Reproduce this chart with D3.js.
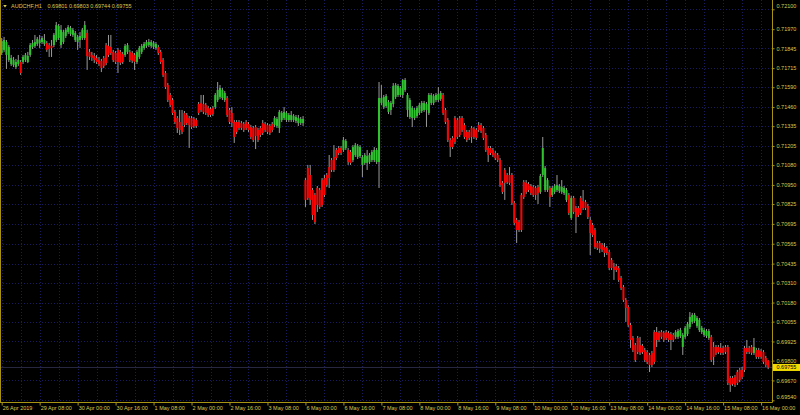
<!DOCTYPE html>
<html>
<head>
<meta charset="utf-8">
<script src="https://cdn.jsdelivr.net/npm/d3@7"></script>
<style>
  body { margin: 0; background: #000; }
  svg { display: block; }
  text { font-family: "Liberation Sans", Arial, sans-serif; }
</style>
</head>
<body>
<svg id="chart" width="800" height="415"></svg>
<script>
// AUDCHF H1, one bar per hour, 26 Apr 2019 16:00 .. 16 May 2019 03:00
var symbol = "AUDCHF,H1";

var open = [
  0.71814,0.71834,0.71801,0.71768,0.71742,0.71735,0.71722,0.71742,0.71755,0.71755,
  0.71768,0.71755,0.71801,0.71853,0.71860,0.71873,0.71879,0.71886,0.71873,0.71879,
  0.71866,0.71860,0.71866,0.71899,0.71912,0.71866,0.71886,0.71925,0.71951,0.71938,
  0.71932,0.71899,0.71886,0.71899,0.71912,0.71912,0.71945,0.71821,0.71801,0.71794,
  0.71781,0.71768,0.71762,0.71781,0.71866,0.71860,0.71853,0.71821,0.71814,0.71834,
  0.71821,0.71807,0.71801,0.71821,0.71821,0.71814,0.71801,0.71755,0.71788,0.71821,
  0.71847,0.71860,0.71866,0.71860,0.71853,0.71847,0.71853,0.71821,0.71768,0.71683,
  0.71604,0.71539,0.71506,0.71428,0.71388,0.71362,0.71336,0.71421,0.71408,0.71388,
  0.71388,0.71382,0.71375,0.71480,0.71487,0.71480,0.71473,0.71454,0.71447,0.71454,
  0.71460,0.71506,0.71526,0.71519,0.71506,0.71519,0.71441,0.71421,0.71362,0.71362,
  0.71362,0.71355,0.71349,0.71362,0.71349,0.71329,0.71323,0.71329,0.71310,0.71323,
  0.71355,0.71349,0.71342,0.71336,0.71349,0.71342,0.71336,0.71323,0.71375,0.71388,
  0.71375,0.71375,0.71375,0.71375,0.71369,0.71355,0.71355,0.71355,0.70982,0.71061,
  0.71015,0.70917,0.70884,0.70930,0.70917,0.70982,0.70995,0.71015,0.71067,0.71113,
  0.71133,0.71179,0.71192,0.71192,0.71179,0.71192,0.71179,0.71166,0.71113,0.71146,
  0.71133,0.71139,0.71081,0.71094,0.71094,0.71100,0.71113,0.71113,0.71100,0.71100,
  0.71487,0.71460,0.71467,0.71428,0.71441,0.71480,0.71526,0.71539,0.71539,0.71539,
  0.71572,0.71441,0.71395,0.71388,0.71388,0.71401,0.71421,0.71434,0.71441,0.71441,
  0.71421,0.71487,0.71487,0.71506,0.71506,0.71513,0.71539,0.71441,0.71375,0.71244,
  0.71257,0.71388,0.71375,0.71388,0.71388,0.71342,0.71297,0.71297,0.71323,0.71316,
  0.71310,0.71342,0.71342,0.71323,0.71277,0.71192,0.71192,0.71179,0.71159,0.71146,
  0.71113,0.70963,0.71048,0.71015,0.71015,0.71015,0.70832,0.70721,0.70707,0.70884,
  0.70969,0.70963,0.70956,0.70943,0.70937,0.70930,0.70937,0.70904,0.71015,0.70917,
  0.70917,0.70930,0.70884,0.70904,0.70917,0.70910,0.70904,0.70897,0.70852,0.70884,
  0.70734,0.70865,0.70799,0.70799,0.70865,0.70845,0.70838,0.70812,0.70721,0.70688,
  0.70655,0.70570,0.70570,0.70557,0.70544,0.70537,0.70511,0.70459,0.70413,0.70419,
  0.70406,0.70341,0.70282,0.70197,0.70151,0.70033,0.69948,0.69902,0.69948,0.69902,
  0.69896,0.69869,0.69856,0.69837,0.69850,0.69987,0.69987,0.69981,0.69987,0.69981,
  0.69987,0.69981,0.69974,0.69968,0.69955,0.69955,0.69961,0.69889,0.69955,0.69974,
  0.70020,0.70053,0.70059,0.70027,0.70000,0.69987,0.69968,0.69961,0.69948,0.69955,
  0.69889,0.69889,0.69889,0.69883,0.69883,0.69889,0.69889,0.69686,0.69686,0.69693,
  0.69725,0.69739,0.69739,0.69883,0.69883,0.69883,0.69889,0.69850,0.69869,0.69869,
  0.69863,0.69856,0.69817,0.69801
];

var high = [
  0.71912,0.71919,0.71899,0.71866,0.71801,0.71788,0.71775,0.71801,0.71768,0.71801,
  0.71814,0.71821,0.71879,0.71899,0.71932,0.71919,0.71932,0.71925,0.71938,0.71892,
  0.71879,0.71899,0.71945,0.72017,0.72004,0.71997,0.71965,0.71978,0.71997,0.71991,
  0.71978,0.71958,0.71932,0.71951,0.71978,0.72023,0.71965,0.71840,0.71821,0.71814,
  0.71801,0.71788,0.71775,0.71794,0.71879,0.71932,0.71932,0.71834,0.71827,0.71847,
  0.71834,0.71821,0.71873,0.71879,0.71834,0.71827,0.71814,0.71834,0.71860,0.71873,
  0.71886,0.71899,0.71906,0.71899,0.71892,0.71886,0.71866,0.71834,0.71781,0.71696,
  0.71617,0.71552,0.71519,0.71441,0.71401,0.71441,0.71441,0.71434,0.71421,0.71401,
  0.71401,0.71395,0.71388,0.71493,0.71539,0.71539,0.71487,0.71467,0.71460,0.71467,
  0.71552,0.71624,0.71604,0.71585,0.71565,0.71532,0.71454,0.71460,0.71375,0.71375,
  0.71375,0.71369,0.71362,0.71375,0.71362,0.71342,0.71336,0.71342,0.71323,0.71336,
  0.71375,0.71362,0.71355,0.71349,0.71362,0.71401,0.71395,0.71441,0.71434,0.71460,
  0.71434,0.71421,0.71434,0.71414,0.71408,0.71408,0.71395,0.71401,0.70995,0.71081,
  0.71081,0.70930,0.70897,0.70943,0.70930,0.70995,0.71015,0.71028,0.71146,0.71126,
  0.71211,0.71192,0.71205,0.71205,0.71264,0.71251,0.71192,0.71179,0.71211,0.71225,
  0.71218,0.71211,0.71146,0.71159,0.71179,0.71159,0.71179,0.71198,0.71192,0.71624,
  0.71604,0.71539,0.71545,0.71506,0.71500,0.71617,0.71617,0.71611,0.71598,0.71644,
  0.71650,0.71552,0.71519,0.71467,0.71454,0.71467,0.71487,0.71500,0.71500,0.71493,
  0.71552,0.71552,0.71545,0.71552,0.71591,0.71565,0.71552,0.71454,0.71388,0.71257,
  0.71270,0.71401,0.71388,0.71401,0.71401,0.71355,0.71310,0.71310,0.71336,0.71329,
  0.71323,0.71362,0.71355,0.71336,0.71290,0.71205,0.71205,0.71192,0.71172,0.71159,
  0.71126,0.70976,0.71061,0.71028,0.71067,0.71028,0.70845,0.70734,0.70721,0.70897,
  0.70982,0.70982,0.70969,0.70956,0.70950,0.70943,0.70950,0.71022,0.71264,0.71074,
  0.70995,0.70943,0.70943,0.70956,0.71015,0.70956,0.70982,0.70943,0.70930,0.70897,
  0.70878,0.70878,0.70812,0.70812,0.70878,0.70917,0.70852,0.70825,0.70740,0.70701,
  0.70668,0.70583,0.70583,0.70570,0.70570,0.70550,0.70524,0.70472,0.70439,0.70433,
  0.70419,0.70354,0.70295,0.70210,0.70164,0.70046,0.69961,0.69915,0.69961,0.69955,
  0.69909,0.69883,0.69869,0.69850,0.69863,0.70000,0.70020,0.69994,0.70000,0.69994,
  0.70000,0.69994,0.69987,0.69981,0.70000,0.70007,0.70014,0.69981,0.70027,0.70053,
  0.70118,0.70112,0.70112,0.70092,0.70079,0.70027,0.70014,0.70007,0.70007,0.69968,
  0.69922,0.69902,0.69902,0.69915,0.69896,0.69902,0.69902,0.69699,0.69699,0.69706,
  0.69739,0.69752,0.69758,0.69896,0.69935,0.69896,0.69902,0.69948,0.69883,0.69883,
  0.69876,0.69869,0.69830,0.69803
];

var low = [
  0.71801,0.71821,0.71709,0.71755,0.71729,0.71722,0.71709,0.71729,0.71670,0.71742,
  0.71755,0.71748,0.71788,0.71840,0.71847,0.71860,0.71847,0.71873,0.71860,0.71821,
  0.71788,0.71788,0.71853,0.71886,0.71899,0.71847,0.71873,0.71912,0.71938,0.71925,
  0.71919,0.71886,0.71834,0.71847,0.71899,0.71899,0.71703,0.71768,0.71762,0.71748,
  0.71742,0.71729,0.71689,0.71716,0.71735,0.71788,0.71801,0.71755,0.71742,0.71683,
  0.71735,0.71742,0.71788,0.71807,0.71755,0.71748,0.71703,0.71742,0.71775,0.71807,
  0.71834,0.71847,0.71853,0.71847,0.71840,0.71834,0.71801,0.71742,0.71657,0.71578,
  0.71493,0.71460,0.71408,0.71349,0.71290,0.71277,0.71283,0.71329,0.71342,0.71192,
  0.71316,0.71323,0.71323,0.71408,0.71428,0.71414,0.71408,0.71395,0.71395,0.71401,
  0.71447,0.71493,0.71513,0.71506,0.71493,0.71395,0.71349,0.71329,0.71225,0.71283,
  0.71310,0.71310,0.71297,0.71310,0.71297,0.71251,0.71231,0.71185,0.71231,0.71264,
  0.71277,0.71297,0.71283,0.71277,0.71297,0.71329,0.71323,0.71290,0.71362,0.71375,
  0.71362,0.71362,0.71362,0.71362,0.71355,0.71336,0.71342,0.71336,0.70806,0.70852,
  0.70819,0.70721,0.70694,0.70773,0.70793,0.70806,0.70871,0.70937,0.70930,0.71035,
  0.71035,0.71113,0.71146,0.71146,0.71166,0.71179,0.71081,0.71081,0.71100,0.71133,
  0.71120,0.71126,0.71002,0.71081,0.71048,0.71087,0.71100,0.71100,0.71087,0.70930,
  0.71473,0.71447,0.71454,0.71414,0.71408,0.71460,0.71513,0.71526,0.71526,0.71519,
  0.71559,0.71395,0.71382,0.71329,0.71375,0.71388,0.71408,0.71421,0.71428,0.71329,
  0.71408,0.71473,0.71473,0.71493,0.71493,0.71500,0.71408,0.71349,0.71231,0.71133,
  0.71185,0.71218,0.71251,0.71264,0.71297,0.71251,0.71231,0.71244,0.71225,0.71251,
  0.71244,0.71297,0.71290,0.71244,0.71166,0.71100,0.71146,0.71133,0.71113,0.71100,
  0.70937,0.70891,0.70852,0.70956,0.70950,0.70819,0.70688,0.70570,0.70642,0.70642,
  0.70858,0.70891,0.70904,0.70884,0.70871,0.70852,0.70825,0.70891,0.71002,0.70904,
  0.70904,0.70806,0.70871,0.70891,0.70904,0.70897,0.70891,0.70884,0.70838,0.70753,
  0.70721,0.70760,0.70635,0.70740,0.70753,0.70786,0.70786,0.70727,0.70491,0.70609,
  0.70531,0.70524,0.70505,0.70511,0.70478,0.70491,0.70393,0.70393,0.70328,0.70380,
  0.70315,0.70262,0.70184,0.70053,0.70020,0.69883,0.69856,0.69791,0.69843,0.69837,
  0.69843,0.69791,0.69778,0.69725,0.69758,0.69778,0.69889,0.69922,0.69942,0.69922,
  0.69935,0.69922,0.69869,0.69922,0.69942,0.69942,0.69948,0.69837,0.69942,0.69961,
  0.70007,0.70040,0.70046,0.70014,0.69987,0.69974,0.69955,0.69948,0.69935,0.69791,
  0.69771,0.69837,0.69843,0.69837,0.69837,0.69843,0.69640,0.69595,0.69634,0.69627,
  0.69640,0.69660,0.69680,0.69725,0.69843,0.69843,0.69837,0.69837,0.69811,0.69811,
  0.69811,0.69778,0.69758,0.69744
];

var close = [
  0.71892,0.71899,0.71886,0.71853,0.71781,0.71768,0.71755,0.71768,0.71683,0.71788,
  0.71801,0.71794,0.71866,0.71879,0.71886,0.71906,0.71899,0.71912,0.71899,0.71834,
  0.71840,0.71847,0.71932,0.71997,0.71991,0.71965,0.71951,0.71965,0.71984,0.71978,
  0.71965,0.71945,0.71919,0.71925,0.71965,0.71997,0.71794,0.71788,0.71781,0.71768,
  0.71755,0.71742,0.71716,0.71729,0.71748,0.71801,0.71814,0.71768,0.71755,0.71755,
  0.71748,0.71755,0.71860,0.71866,0.71768,0.71762,0.71755,0.71821,0.71847,0.71860,
  0.71873,0.71886,0.71886,0.71886,0.71879,0.71873,0.71814,0.71755,0.71670,0.71591,
  0.71506,0.71473,0.71421,0.71362,0.71323,0.71310,0.71297,0.71342,0.71355,0.71342,
  0.71329,0.71336,0.71336,0.71421,0.71441,0.71428,0.71421,0.71408,0.71408,0.71414,
  0.71539,0.71572,0.71585,0.71572,0.71552,0.71408,0.71362,0.71355,0.71264,0.71297,
  0.71323,0.71323,0.71310,0.71323,0.71310,0.71264,0.71244,0.71270,0.71244,0.71277,
  0.71290,0.71310,0.71297,0.71290,0.71310,0.71388,0.71382,0.71428,0.71421,0.71428,
  0.71421,0.71408,0.71408,0.71401,0.71395,0.71388,0.71382,0.71382,0.70852,0.70865,
  0.70852,0.70753,0.70707,0.70819,0.70806,0.70819,0.70884,0.70950,0.70995,0.71048,
  0.71048,0.71126,0.71159,0.71159,0.71244,0.71238,0.71100,0.71094,0.71198,0.71211,
  0.71205,0.71198,0.71133,0.71146,0.71139,0.71146,0.71166,0.71179,0.71179,0.71519,
  0.71519,0.71526,0.71532,0.71493,0.71487,0.71598,0.71604,0.71598,0.71585,0.71637,
  0.71637,0.71539,0.71506,0.71454,0.71441,0.71454,0.71473,0.71487,0.71487,0.71480,
  0.71539,0.71539,0.71532,0.71539,0.71545,0.71552,0.71421,0.71362,0.71244,0.71198,
  0.71198,0.71231,0.71264,0.71277,0.71310,0.71264,0.71244,0.71257,0.71264,0.71264,
  0.71257,0.71310,0.71303,0.71257,0.71179,0.71146,0.71159,0.71146,0.71126,0.71113,
  0.70950,0.70904,0.70963,0.70969,0.70963,0.70832,0.70701,0.70655,0.70655,0.70655,
  0.70871,0.70904,0.70917,0.70897,0.70884,0.70884,0.70897,0.71009,0.71192,0.71061,
  0.70982,0.70871,0.70930,0.70943,0.70950,0.70943,0.70937,0.70930,0.70917,0.70766,
  0.70865,0.70773,0.70740,0.70753,0.70766,0.70799,0.70799,0.70740,0.70635,0.70622,
  0.70544,0.70537,0.70531,0.70524,0.70505,0.70505,0.70406,0.70406,0.70393,0.70393,
  0.70328,0.70275,0.70197,0.70145,0.70033,0.69935,0.69869,0.69804,0.69856,0.69850,
  0.69856,0.69804,0.69791,0.69771,0.69771,0.69791,0.69935,0.69935,0.69955,0.69935,
  0.69948,0.69935,0.69935,0.69935,0.69987,0.69994,0.70000,0.69968,0.70014,0.70040,
  0.70086,0.70099,0.70099,0.70079,0.70066,0.70014,0.70000,0.69994,0.69994,0.69804,
  0.69824,0.69850,0.69856,0.69850,0.69850,0.69856,0.69653,0.69640,0.69647,0.69640,
  0.69653,0.69673,0.69693,0.69739,0.69856,0.69856,0.69850,0.69889,0.69824,0.69824,
  0.69824,0.69791,0.69771,0.69755
];

// time scale labels, one every 16 bars starting at the first bar
var timeLabels = [
  "26 Apr 2019", "29 Apr 08:00", "30 Apr 00:00", "30 Apr 16:00", "1 May 08:00",
  "2 May 00:00", "2 May 16:00", "3 May 08:00", "6 May 00:00", "6 May 16:00",
  "7 May 08:00", "8 May 00:00", "8 May 16:00", "9 May 08:00", "10 May 00:00",
  "10 May 16:00", "13 May 08:00", "14 May 00:00", "14 May 16:00", "15 May 08:00",
  "16 May 00:00"
];

var priceLabels = [
  "0.72100", "0.71970", "0.71845", "0.71715", "0.71590", "0.71460", "0.71335",
  "0.71205", "0.71080", "0.70950", "0.70825", "0.70695", "0.70565", "0.70435",
  "0.70310", "0.70180", "0.70055", "0.69925", "0.69800", "0.69670", "0.69540"
];

var lastBar = [0.69801, 0.69803, 0.69744, 0.69755]; // O H L C shown in the title

// colours of the terminal scheme
var axisColor = "#a89412";
var textColor = "#d9c94e";
var gridColor = "#1a1a5e";
var bullColor = "#2fc42f";
var bearColor = "#ff0000";
var wickColor = "#9a9a9a";

var svg = d3.select("#chart");
var n = close.length;
var plotRight = 772.5, plotBottom = 402.5;

var x = d3.scaleLinear().domain([0, n - 1]).range([1.7, 768.2]);
var y = d3.scaleLinear()
  .domain([+priceLabels[priceLabels.length - 1], +priceLabels[0]])
  .range([400.3, 9.3]);

// Grid: vertical every 8 bars, horizontal on price ticks
var grid = svg.append("g")
  .attr("stroke", gridColor)
  .attr("stroke-dasharray", "1,2");

grid.selectAll("line.v")
  .data(d3.range(0, n, 8).filter(i => x(i) < plotRight - 2))
  .join("line")
  .attr("class", "v")
  .attr("x1", d => Math.round(x(d)) + 0.5)
  .attr("x2", d => Math.round(x(d)) + 0.5)
  .attr("y1", 0)
  .attr("y2", plotBottom);

grid.selectAll("line.h")
  .data(priceLabels.map(Number))
  .join("line")
  .attr("class", "h")
  .attr("x1", 0)
  .attr("x2", plotRight)
  .attr("y1", d => Math.round(y(d)) + 0.5)
  .attr("y2", d => Math.round(y(d)) + 0.5);

// Bid line
svg.append("line")
  .attr("x1", 0).attr("x2", plotRight)
  .attr("y1", Math.round(y(lastBar[3])) + 0.5)
  .attr("y2", Math.round(y(lastBar[3])) + 0.5)
  .attr("stroke", "#272742");

// Candles
var bars = d3.range(n).map(i => ({ i: i, o: open[i], h: high[i], l: low[i], c: close[i] }));
var candles = svg.append("g");

candles.selectAll("line.wick")
  .data(bars)
  .join("line")
  .attr("class", "wick")
  .attr("x1", d => x(d.i))
  .attr("x2", d => x(d.i))
  .attr("y1", d => y(d.h))
  .attr("y2", d => y(d.l))
  .attr("stroke", wickColor)
  .attr("stroke-width", 1);

candles.selectAll("rect.body")
  .data(bars)
  .join("rect")
  .attr("class", "body")
  .attr("x", d => x(d.i) - 1)
  .attr("width", 2)
  .attr("y", d => y(Math.max(d.o, d.c)))
  .attr("height", d => Math.max(1, Math.abs(y(d.o) - y(d.c))))
  .attr("fill", d => d.c >= d.o ? bullColor : bearColor);

// Frame
var frame = svg.append("g").attr("stroke", axisColor).attr("fill", "none");
frame.append("line").attr("x1", 0.5).attr("x2", 0.5).attr("y1", 0).attr("y2", plotBottom);
frame.append("line").attr("x1", plotRight).attr("x2", plotRight).attr("y1", 0).attr("y2", plotBottom);
frame.append("line").attr("x1", 0).attr("x2", plotRight).attr("y1", plotBottom).attr("y2", plotBottom);

// Time axis
var xAxis = d3.axisBottom(x)
  .tickValues(d3.range(0, n, 16))
  .tickFormat((d, i) => timeLabels[i])
  .tickSize(3)
  .tickSizeOuter(0);

var gx = svg.append("g")
  .attr("transform", "translate(0," + plotBottom + ")")
  .call(xAxis)
  .attr("font-size", 5.5)
  .attr("font-family", "Liberation Sans, Arial, sans-serif");
gx.select(".domain").remove();
gx.selectAll(".tick line").attr("stroke", axisColor);
gx.selectAll(".tick text")
  .attr("fill", textColor)
  .attr("text-anchor", "start")
  .attr("x", 0.5)
  .attr("y", 3.8);

// Price axis
var yAxis = d3.axisRight(y)
  .tickValues(priceLabels.map(Number))
  .tickFormat((d, i) => priceLabels[i])
  .tickSize(2)
  .tickPadding(2)
  .tickSizeOuter(0);

var gy = svg.append("g")
  .attr("transform", "translate(" + plotRight + ",0)")
  .call(yAxis)
  .attr("font-size", 5.5)
  .attr("font-family", "Liberation Sans, Arial, sans-serif");
gy.select(".domain").remove();
gy.selectAll(".tick line").attr("stroke", axisColor);
gy.selectAll(".tick text").attr("fill", textColor);
// top and bottom labels are pushed inside the window
gy.selectAll(".tick text").filter((d, i) => i === 0).attr("y", -3.3);
gy.selectAll(".tick text").filter((d, i) => i === priceLabels.length - 1).attr("y", -3.6);

// Current price tag
var yb = y(lastBar[3]);
svg.append("rect")
  .attr("x", 773).attr("y", yb - 3.5)
  .attr("width", 27).attr("height", 7)
  .attr("fill", "#f2dc00");
svg.append("text")
  .attr("x", 776.5).attr("y", yb)
  .attr("dy", "0.35em")
  .attr("font-size", 5.5)
  .attr("fill", "#000")
  .text(d3.format(".5f")(lastBar[3]));

// Title
svg.append("path")
  .attr("d", "M3.2,5 L6.8,5 L5,7.4 Z")
  .attr("fill", textColor);
svg.append("text")
  .attr("x", 11).attr("y", 8.1)
  .attr("font-size", 5.5)
  .attr("fill", textColor)
  .text(symbol);
svg.append("text")
  .attr("x", 47.5).attr("y", 8.1)
  .attr("font-size", 5.5)
  .attr("fill", textColor)
  .text(lastBar.map(d3.format(".5f")).join(" "));
</script>
</body>
</html>
